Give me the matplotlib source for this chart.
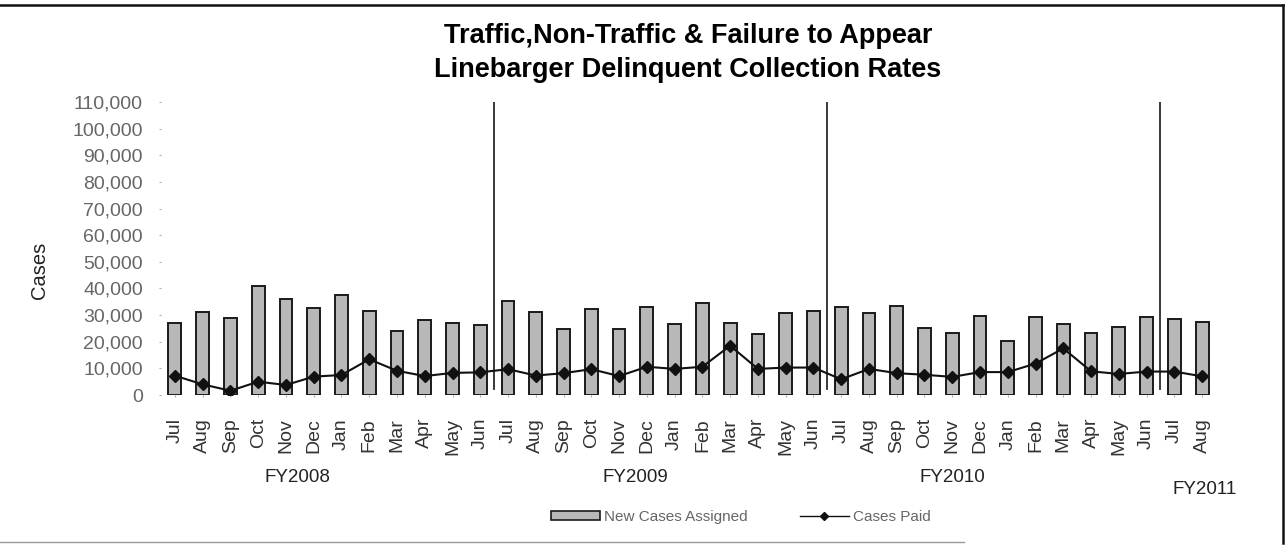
import matplotlib
matplotlib.use("Agg")
import matplotlib.pyplot as plt
from matplotlib.lines import Line2D
from matplotlib.transforms import blended_transform_factory

plt.rcParams["font.family"] = ["Liberation Sans", "DejaVu Sans"]

# ── Data ────────────────────────────────────────────────────────────────
months = ["Jul", "Aug", "Sep", "Oct", "Nov", "Dec",
          "Jan", "Feb", "Mar", "Apr", "May", "Jun"] * 3 + ["Jul", "Aug"]

new_cases = [27200, 31200, 28800, 40900, 36100, 32800, 37600, 31700, 24200, 28100, 27100, 26100,
             35200, 31200, 24700, 32300, 24900, 33000, 26800, 34700, 27100, 22800, 30900, 31600,
             33000, 30800, 33500, 25200, 23300, 29800, 20300, 29400, 26700, 23400, 25700, 29200,
             28600, 27300]

cases_paid = [7250, 4000, 1600, 5000, 3750, 6900, 7500, 13400, 9100, 7100, 8300, 8500,
              9700, 7300, 8200, 9700, 7100, 10600, 9800, 10600, 18500, 9800, 10300, 10300,
              5900, 9800, 8200, 7600, 6800, 8600, 8600, 11800, 17500, 8900, 7900, 8800,
              8800, 7000]

fiscal_years = ["FY2008", "FY2009", "FY2010", "FY2011"]
fy_breaks = [11.5, 23.5, 35.5]

y_ticks = list(range(0, 110001, 10000))

# ── Figure ──────────────────────────────────────────────────────────────
W, H = 1285, 545
fig = plt.figure(figsize=(W / 100, H / 100), dpi=100)
ax = fig.add_axes([161 / W, 1 - 395 / H, (1216 - 161) / W, (395 - 102) / H])

x = list(range(len(months)))
ax.bar(x, new_cases, width=0.46, color="#b8b8b8", edgecolor="#1a1a1a",
       linewidth=1.4, zorder=2)
ax.plot(x, cases_paid, color="#111111", linewidth=1.5, marker="D",
        markersize=6.5, zorder=3)

# fiscal-year separators
for xb in fy_breaks:
    ax.axvline(xb, ymin=0.02, ymax=1.0, color="#2a2a2a", linewidth=1.3, zorder=1)

ax.set_xlim(-0.5, len(months) - 0.5)
ax.set_ylim(0, 110000)
ax.set_yticks(y_ticks)
ax.set_yticklabels([f"{v:,}" for v in y_ticks])
ax.set_xticks(x)
ax.set_xticklabels(months, rotation=90)

ax.tick_params(axis="y", length=1.5, width=0.8, color="#aaaaaa", pad=11.5,
               labelsize=14, labelcolor="#666666")
ax.tick_params(axis="x", length=1.5, width=0.8, color="#aaaaaa", pad=15,
               labelsize=14, labelcolor="#333333")
for sp in ax.spines.values():
    sp.set_visible(False)

# fiscal year labels under the month labels
trans = blended_transform_factory(ax.transData, fig.transFigure)
fy_x = [4.4, 16.6, 28.0, 37.1]
fy_y = [477, 477, 477, 489]
for lab, fx, fyy in zip(fiscal_years, fy_x, fy_y):
    ax.text(fx, 1 - fyy / H, lab, transform=trans, ha="center", va="center",
            fontsize=13.5, color="#222222")

# title and axis label
fig.text(688 / W, 1 - 36 / H, "Traffic,Non-Traffic & Failure to Appear",
         ha="center", va="center", fontsize=19.5, fontweight="bold")
fig.text(688 / W, 1 - 70 / H, "Linebarger Delinquent Collection Rates",
         ha="center", va="center", fontsize=19.5, fontweight="bold")
fig.text(40 / W, 1 - 270 / H, "Cases", rotation=90, ha="center", va="center",
         fontsize=14.5, color="#222222")

# legend
handles = [
    plt.Rectangle((0, 0), 1, 1, facecolor="#b8b8b8", edgecolor="#1a1a1a", linewidth=1.2),
    Line2D([], [], color="#111111", linewidth=1, marker="D", markersize=4),
]
fig.legend(handles, ["New Cases Assigned", "Cases Paid"], loc="center",
           bbox_to_anchor=(741 / W, 1 - 517 / H), ncol=2, frameon=False,
           fontsize=11, labelcolor="#666666", handlelength=3.2,
           handleheight=0.5, columnspacing=3.4, handletextpad=0.3)

# outer frame (top, right, faint bottom)
fig.add_artist(Line2D([0, 1283 / W], [1 - 5 / H, 1 - 5 / H], transform=fig.transFigure,
                      color="#111111", linewidth=1.8))
fig.add_artist(Line2D([1283 / W, 1283 / W], [1 - 543 / H, 1 - 5 / H], transform=fig.transFigure,
                      color="#111111", linewidth=1.8))
fig.add_artist(Line2D([0, 0.75], [1 - 542 / H, 1 - 542 / H], transform=fig.transFigure,
                      color="#999999", linewidth=1))

fig.savefig("out.png", dpi=100)
